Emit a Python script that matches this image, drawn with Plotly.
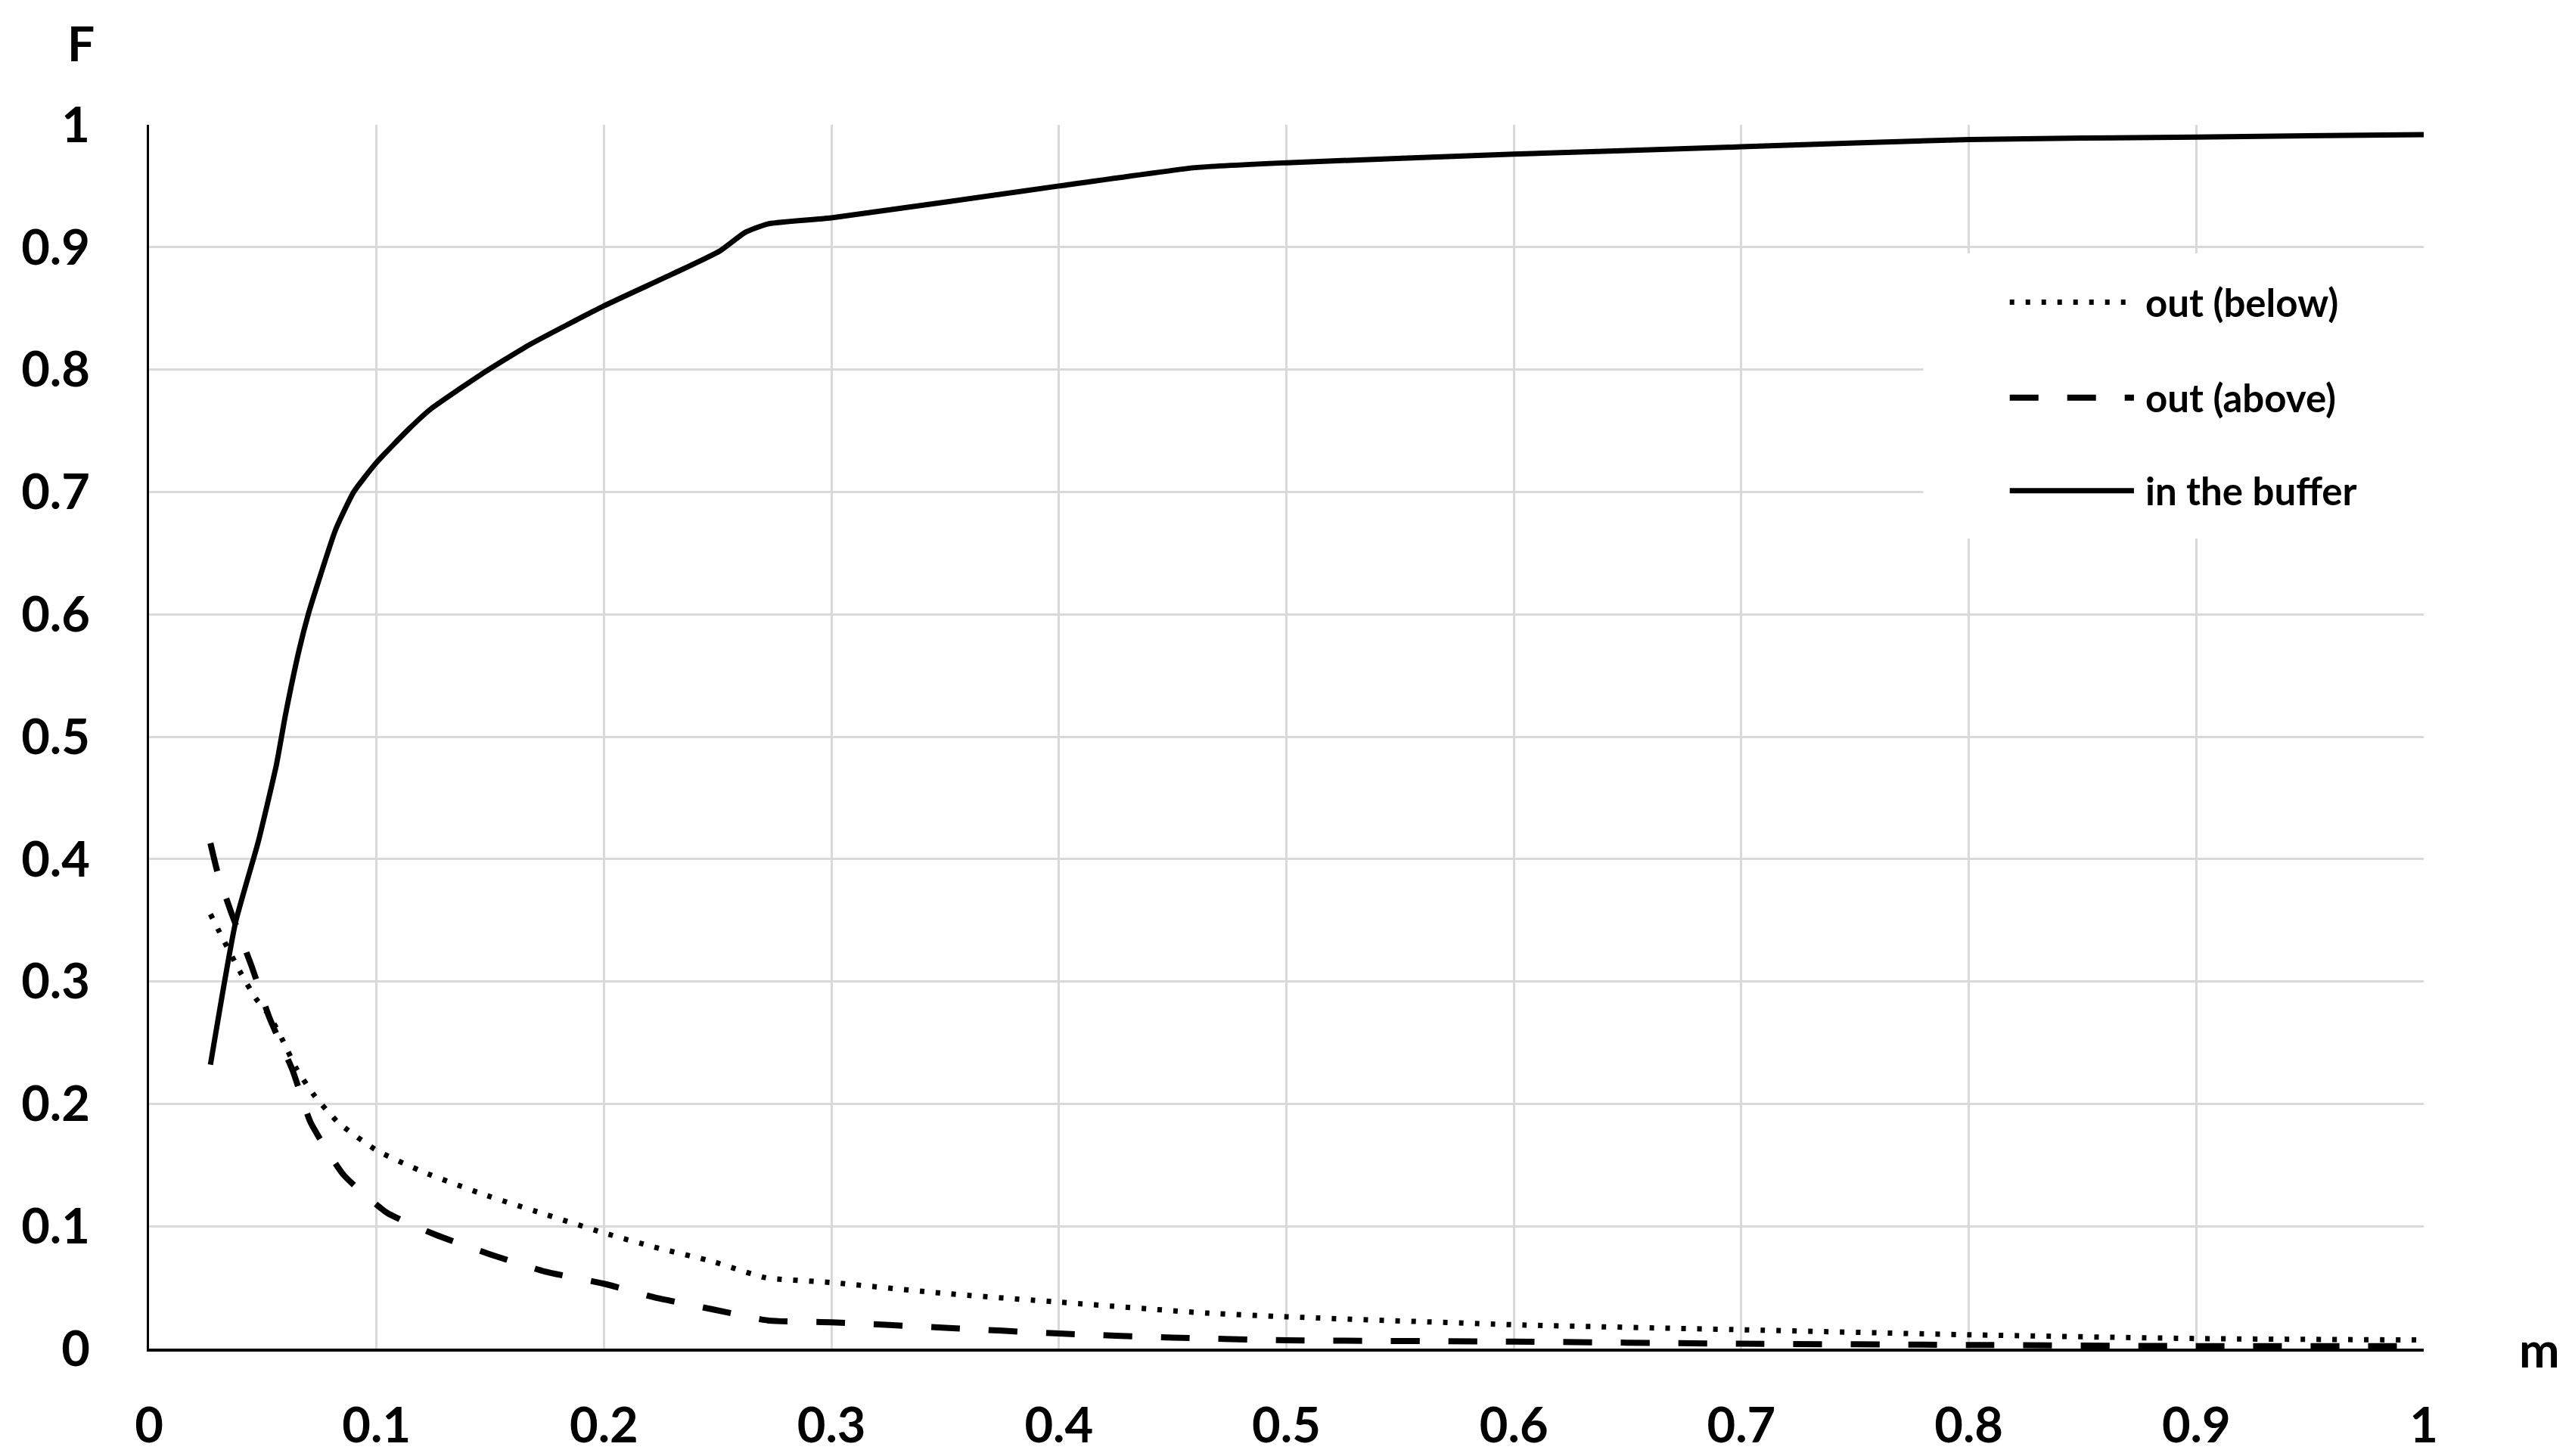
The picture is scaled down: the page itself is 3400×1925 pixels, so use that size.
import plotly.graph_objects as go

# ── data ──
m_buffer = [0.027, 0.038, 0.048, 0.056, 0.060, 0.066, 0.070, 0.074, 0.082, 0.090,
            0.100, 0.114, 0.124, 0.146, 0.167, 0.200, 0.230, 0.251, 0.262, 0.272,
            0.300, 0.400, 0.460, 0.500, 0.600, 0.700, 0.800, 0.900, 1.000]
f_buffer = [0.232, 0.348, 0.414, 0.477, 0.518, 0.571, 0.600, 0.624, 0.669, 0.700,
            0.724, 0.751, 0.768, 0.796, 0.820, 0.852, 0.878, 0.897, 0.912, 0.919,
            0.924, 0.950, 0.965, 0.969, 0.976, 0.982, 0.988, 0.990, 0.992]

m_below = [0.027, 0.033, 0.040, 0.047, 0.053, 0.059, 0.065, 0.073, 0.083, 0.100,
           0.121, 0.147, 0.172, 0.200, 0.222, 0.248, 0.271, 0.300, 0.350, 0.400,
           0.465, 0.500, 0.600, 0.700, 0.800, 0.900, 1.000]
f_below = [0.355, 0.333, 0.308, 0.286, 0.272, 0.251, 0.228, 0.206, 0.185, 0.162,
           0.144, 0.126, 0.111, 0.0945, 0.083, 0.071, 0.058, 0.054, 0.045, 0.038,
           0.029, 0.026, 0.0195, 0.0154, 0.0113, 0.0082, 0.007]

m_above = [0.027, 0.030, 0.036, 0.045, 0.053, 0.063, 0.071, 0.0855, 0.1046, 0.126,
           0.150, 0.174, 0.200, 0.222, 0.248, 0.272, 0.300, 0.350, 0.400, 0.450,
           0.500, 0.600, 0.700, 0.800, 0.900, 1.000]
f_above = [0.413, 0.390, 0.357, 0.313, 0.270, 0.228, 0.185, 0.142, 0.111, 0.093,
           0.077, 0.063, 0.053, 0.042, 0.032, 0.023, 0.0215, 0.017, 0.0123, 0.009,
           0.0068, 0.0057, 0.004, 0.003, 0.002, 0.002]

series_names = ["out (below)", "out (above)", "in the buffer"]

FONT = dict(family="Lato, Arial, sans-serif", color="black", weight="bold")
GRID = "#d9d9d9"
DOT = "6px,15px"
DASH = "38px,38px"

fig = go.Figure()

fig.add_trace(go.Scatter(x=m_below, y=f_below, mode="lines", name=series_names[0],
                         line=dict(color="black", width=7, dash=DOT, shape="spline", smoothing=0.5)))
fig.add_trace(go.Scatter(x=m_above, y=f_above, mode="lines", name=series_names[1],
                         line=dict(color="black", width=8, dash=DASH, shape="spline", smoothing=0.5)))
fig.add_trace(go.Scatter(x=m_buffer, y=f_buffer, mode="lines", name=series_names[2],
                         line=dict(color="black", width=7, shape="spline", smoothing=0.5)))

# ── legend drawn by hand (long key samples like the original) ──
shapes = [dict(type="rect", xref="x", yref="y", x0=0.78, x1=1.003, y0=0.662, y1=0.895,
               fillcolor="white", line=dict(width=0), layer="above")]
key_rows = [0.855, 0.777, 0.701]
key_dash = [DOT, DASH, "solid"]
key_width = [7, 8, 7]
annotations = []
for name, yy, dash, w in zip(series_names, key_rows, key_dash, key_width):
    shapes.append(dict(type="line", xref="x", yref="y", x0=0.818, x1=0.8726, y0=yy, y1=yy,
                       line=dict(color="black", width=w, dash=dash), layer="above"))
    annotations.append(dict(text=name, xref="x", yref="y", x=0.877, y=yy,
                            xanchor="left", yanchor="middle", showarrow=False,
                            font=dict(FONT, size=51)))

# axis names
annotations.append(dict(text="F", xref="paper", yref="paper", x=-0.030, y=1.092,
                        xanchor="center", yanchor="top", showarrow=False,
                        font=dict(FONT, size=64)))
annotations.append(dict(text="m", xref="paper", yref="paper", x=1.051, y=0.0,
                        xanchor="center", yanchor="middle", showarrow=False,
                        font=dict(FONT, size=64)))

fig.update_layout(
    width=3400, height=1925,
    margin=dict(l=189, r=204, t=157, b=143),
    paper_bgcolor="white", plot_bgcolor="white",
    showlegend=False,
    font=dict(FONT, size=64),
    shapes=shapes,
    annotations=annotations,
)

fig.update_xaxes(range=[0, 1], dtick=0.1, tick0=0, showgrid=True, gridcolor=GRID, gridwidth=3,
                 zeroline=False, showline=True, linecolor="black", linewidth=4,
                 ticks="", ticklabelstandoff=42, tickfont=dict(FONT, size=65))
fig.update_yaxes(range=[0, 1], dtick=0.1, tick0=0, showgrid=True, gridcolor=GRID, gridwidth=3,
                 zeroline=False, showline=True, linecolor="black", linewidth=3,
                 ticks="", ticklabelstandoff=62, tickfont=dict(FONT, size=65))

fig.write_html("out.html")
